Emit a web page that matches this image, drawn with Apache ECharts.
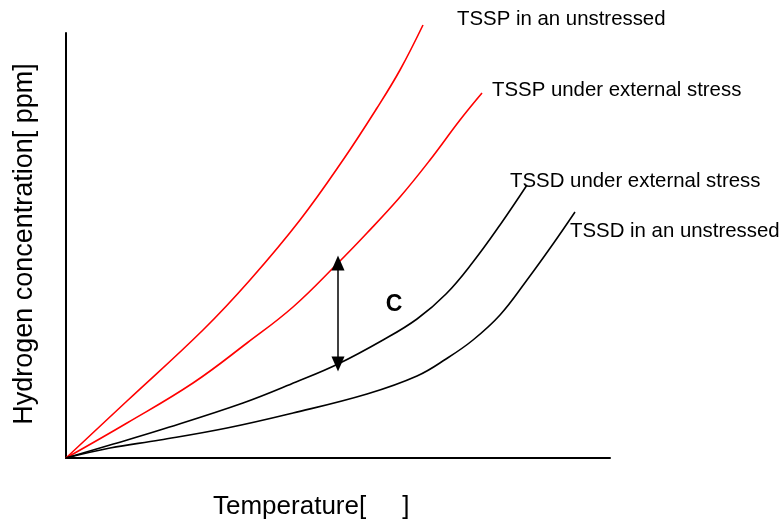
<!DOCTYPE html>
<html>
<head>
<meta charset="utf-8">
<script src="https://cdn.jsdelivr.net/npm/echarts@6/dist/echarts.min.js"></script>
<style>
  html, body { margin: 0; padding: 0; background: #fff; }
  #box { width: 782px; height: 524px; }
</style>
</head>
<body>
<div id="box"></div>
<script>
// curve data (x = temperature, y = concentration, arbitrary units)
var tsspUnstressed = [[0,0],[61,57],[137,128],[184,178],[234,238],[277,298],[311,350],[334,388],[357,433]];
var tsspStress = [[0,0],[61,35],[127,75],[181,115],[227,151],[272,195],[301,225],[334,261],[364,298],[394,338],[416,365]];
var tssdStress = [[0,0],[44,13],[94,28],[177,55],[230,76],[272,94],[317,118],[351,139],[380,164],[407,196],[434,233],[461,273]];
var tssdUnstressed = [[0,0],[44,10],[94,18],[161,30],[227,45],[301,64],[351,82],[380,99],[407,118],[434,143],[461,178],[487,214],[509,246]];

var seriesNames = ['TSSP in an unstressed', 'TSSP under external stress', 'TSSD under external stress', 'TSSD in an unstressed'];
var seriesColors = ['#ff0000', '#ff0000', '#000000', '#000000'];
var seriesData = [tsspUnstressed, tsspStress, tssdStress, tssdUnstressed];

// arrow "C" between the two stressed curves
var arrowX = 272, arrowTop = 195, arrowBottom = 94;

var xName = 'Temperature[     ]';
var yName = 'Hydrogen concentration[ ppm]';

var drawChart = function(){
    var box = document.getElementById('box');
    var myCharts = echarts.init(box);

    var series = [];
    seriesData.forEach(function(d, i){
        series.push({
            name: seriesNames[i],
            type: 'line',
            data: d,
            smooth: 0.4,
            symbol: 'none',
            clip: false,
            lineStyle: { color: seriesColors[i], width: 1.6 }
        });
    });
    series[1].markLine = {
        silent: true,
        symbol: ['triangle', 'triangle'],
        symbolSize: [13, 15],
        label: { show: false },
        lineStyle: { color: '#000', width: 1.5, type: 'solid' },
        data: [[{ coord: [arrowX, arrowBottom] }, { coord: [arrowX, arrowTop] }]]
    };

    var option = {
        animation: false,
        grid: { left: 66, top: 33, width: 544, height: 425 },
        xAxis: {
            type: 'value', min: 0, max: 544,
            axisLine: { show: true, lineStyle: { color: '#000', width: 2 } },
            axisTick: { show: false }, axisLabel: { show: false }, splitLine: { show: false }
        },
        yAxis: {
            type: 'value', min: 0, max: 425,
            axisLine: { show: true, lineStyle: { color: '#000', width: 2 } },
            axisTick: { show: false }, axisLabel: { show: false }, splitLine: { show: false }
        },
        series: series
    };
    myCharts.setOption(option);

    /* labels next to curve ends, plus axis titles and "C" */
    var labelOffsets = [[34, -6], [10, -3], [-17, -4], [-5, 19]];
    var graphics = [];
    seriesData.forEach(function(d, i){
        var p = myCharts.convertToPixel({ gridIndex: 0 }, d[d.length - 1]);
        graphics.push({
            type: 'text',
            x: p[0] + labelOffsets[i][0],
            y: p[1] + labelOffsets[i][1],
            style: {
                text: seriesNames[i], fill: '#000',
                font: '20.4px "Liberation Sans", Arial, sans-serif',
                textAlign: 'left', textVerticalAlign: 'middle'
            }
        });
    });
    graphics.push({
        type: 'text', x: 394, y: 305,
        style: { text: 'C', fill: '#000', font: 'bold 23px "Liberation Sans", Arial, sans-serif', textAlign: 'center', textVerticalAlign: 'middle' }
    });
    graphics.push({
        type: 'text', x: 213, y: 507,
        style: { text: xName, fill: '#000', font: '26px "Liberation Sans", Arial, sans-serif', textAlign: 'left', textVerticalAlign: 'middle' }
    });
    graphics.push({
        type: 'text', x: 25, y: 244, rotation: Math.PI / 2,
        style: { text: yName, fill: '#000', font: '27px "Liberation Sans", Arial, sans-serif', textAlign: 'center', textVerticalAlign: 'middle' }
    });
    myCharts.setOption({ graphic: graphics });
};

drawChart();
</script>
</body>
</html>
